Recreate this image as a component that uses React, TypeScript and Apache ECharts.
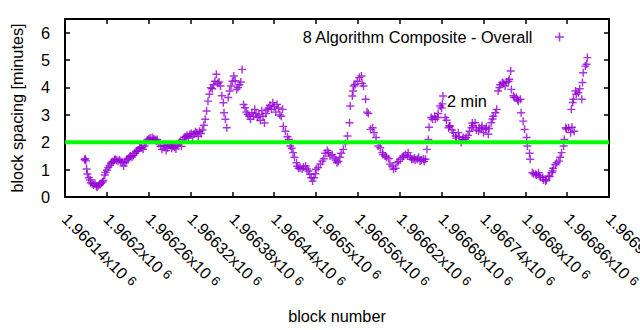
import React, { useEffect, useRef } from "react";
import * as echarts from "echarts";

const seriesName = "8 Algorithm Composite - Overall";
const xAxisName = "block number";
const yAxisName = "block spacing [minutes]";
const lineLabel = "2 min";
const targetSpacing = 2;
const xMin = 1966140;
const xMax = 1966920;
const xStep = 60;
const yMin = 0;
const yMax = 6.5;
const yStep = 1;

const blocks = [
  1966168, 1966169, 1966170, 1966171, 1966172, 1966174, 1966176, 1966177, 1966179, 1966181,
  1966183, 1966185, 1966186, 1966188, 1966190, 1966192, 1966194, 1966195, 1966197, 1966198,
  1966200, 1966202, 1966204, 1966206, 1966207, 1966209, 1966211, 1966212, 1966214, 1966216,
  1966218, 1966220, 1966222, 1966224, 1966226, 1966228, 1966229, 1966231, 1966233, 1966234,
  1966236, 1966238, 1966240, 1966242, 1966243, 1966245, 1966247, 1966248, 1966250, 1966252,
  1966254, 1966256, 1966258, 1966260, 1966262, 1966265, 1966267, 1966269, 1966271, 1966272,
  1966274, 1966277, 1966279, 1966281, 1966283, 1966285, 1966287, 1966289, 1966291, 1966293,
  1966295, 1966297, 1966299, 1966301, 1966303, 1966305, 1966307, 1966309, 1966311, 1966313,
  1966315, 1966317, 1966319, 1966321, 1966323, 1966325, 1966327, 1966329, 1966331, 1966333,
  1966335, 1966337, 1966339, 1966341, 1966343, 1966345, 1966347, 1966349, 1966351, 1966353,
  1966355, 1966357, 1966359, 1966361, 1966363, 1966365, 1966367, 1966368, 1966370, 1966372,
  1966374, 1966376, 1966378, 1966380, 1966382, 1966384, 1966386, 1966388, 1966390, 1966392,
  1966394, 1966396, 1966398, 1966400, 1966402, 1966404, 1966406, 1966408, 1966410, 1966412,
  1966414, 1966416, 1966418, 1966420, 1966422, 1966424, 1966426, 1966428, 1966430, 1966432,
  1966434, 1966436, 1966438, 1966440, 1966442, 1966444, 1966446, 1966448, 1966450, 1966452,
  1966453, 1966456, 1966459, 1966461, 1966463, 1966465, 1966467, 1966469, 1966472, 1966473,
  1966475, 1966477, 1966480, 1966482, 1966485, 1966487, 1966489, 1966491, 1966493, 1966495,
  1966497, 1966499, 1966500, 1966503, 1966506, 1966509, 1966511, 1966513, 1966516, 1966518,
  1966520, 1966523, 1966526, 1966528, 1966530, 1966532, 1966534, 1966536, 1966539, 1966542,
  1966545, 1966548, 1966549, 1966552, 1966553, 1966554, 1966556, 1966559, 1966562, 1966565,
  1966566, 1966568, 1966571, 1966573, 1966575, 1966578, 1966581, 1966583, 1966586, 1966589,
  1966592, 1966595, 1966596, 1966599, 1966601, 1966604, 1966606, 1966609, 1966611, 1966614,
  1966616, 1966618, 1966621, 1966624, 1966625, 1966628, 1966631, 1966632, 1966635, 1966637,
  1966639, 1966641, 1966642, 1966645, 1966647, 1966649, 1966651, 1966654, 1966655, 1966657,
  1966659, 1966661, 1966662, 1966665, 1966667, 1966670, 1966671, 1966674, 1966675, 1966678,
  1966680, 1966681, 1966682, 1966685, 1966687, 1966690, 1966691, 1966692, 1966695, 1966697,
  1966700, 1966701, 1966704, 1966705, 1966708, 1966710, 1966711, 1966714, 1966715, 1966718,
  1966720, 1966723, 1966724, 1966725, 1966728, 1966730, 1966733, 1966734, 1966737, 1966738,
  1966740, 1966743, 1966744, 1966747, 1966748, 1966751, 1966753, 1966754, 1966757, 1966759,
  1966761, 1966763, 1966764, 1966767, 1966769, 1966771, 1966773, 1966776, 1966777, 1966779,
  1966780, 1966783, 1966784, 1966787, 1966789, 1966790, 1966793, 1966794, 1966797, 1966799,
  1966802, 1966803, 1966806, 1966807, 1966810, 1966812, 1966815, 1966816, 1966819, 1966820,
  1966822, 1966825, 1966826, 1966829, 1966830, 1966833, 1966835, 1966838, 1966839, 1966840,
  1966843, 1966845, 1966848, 1966850, 1966852, 1966855, 1966856, 1966858, 1966859, 1966862,
  1966865, 1966866, 1966867, 1966868, 1966869, 1966870, 1966872, 1966873, 1966876, 1966878,
  1966881, 1966882, 1966883, 1966886, 1966888, 1966889,
];

const spacing = [
  1.36, 1.40, 1.32, 1.02, 0.84, 0.70, 0.62, 0.52, 0.48, 0.44,
  0.50, 0.40, 0.36, 0.42, 0.46, 0.50, 0.55, 0.60, 0.80, 0.90,
  0.98, 1.08, 1.15, 1.22, 1.27, 1.30, 1.35, 1.38, 1.34, 1.31,
  1.36, 1.30, 1.27, 1.13, 1.25, 1.32, 1.38, 1.42, 1.48, 1.50,
  1.46, 1.52, 1.60, 1.66, 1.68, 1.72, 1.78, 1.81, 1.80, 1.74,
  1.86, 1.95, 2.08, 2.12, 2.15, 2.17, 2.12, 2.10, 2.05, 2.10,
  1.95, 1.85, 1.74, 1.88, 1.85, 1.70, 1.80, 1.92, 1.88, 1.78,
  1.85, 1.82, 1.75, 1.90, 1.95, 2.02, 1.85, 2.10, 2.18, 2.20,
  2.25, 2.15, 2.28, 2.32, 2.20, 2.30, 2.38, 2.35, 2.22, 2.40,
  2.32, 2.45, 2.62, 2.84, 3.14, 3.50, 3.75, 3.99, 3.95, 4.10,
  4.23, 4.48, 4.15, 4.20, 4.05, 3.70, 3.44, 3.08, 2.84, 2.53,
  3.63, 3.87, 4.05, 4.23, 4.42, 4.25, 3.93, 4.00, 4.10, 4.20,
  4.66, 3.38, 3.26, 3.10, 3.02, 2.95, 2.84, 3.08, 2.95, 3.20,
  3.05, 2.90, 3.00, 2.80, 3.15, 2.95, 2.70, 3.05, 3.20, 3.25,
  3.35, 3.20, 3.44, 3.30, 3.10, 3.38, 3.25, 3.00, 2.95, 3.20,
  2.58, 2.40, 2.20, 2.10, 1.86, 1.78, 1.62, 1.45, 1.25, 1.12,
  1.05, 1.07, 1.02, 1.10, 1.13, 1.02, 0.95, 0.83, 0.70, 0.58,
  0.70, 0.85, 1.01, 1.08, 1.20, 1.31, 1.40, 1.60, 1.70, 1.62,
  1.50, 1.55, 1.42, 1.35, 1.25, 1.30, 1.45, 1.60, 1.74, 1.95,
  2.23, 2.71, 3.32, 3.69, 3.87, 4.05, 4.11, 4.23, 4.36, 4.42,
  4.15, 4.05, 3.57, 3.10, 3.05, 2.47, 2.53, 2.35, 2.17, 1.86,
  1.80, 1.62, 1.55, 1.50, 1.45, 1.40, 1.20, 1.13, 1.01, 1.05,
  1.25, 1.30, 1.38, 1.44, 1.50, 1.55, 1.50, 1.62, 1.45, 1.38,
  1.38, 1.42, 1.35, 1.38, 1.45, 1.31, 1.35, 1.38, 1.30, 1.38,
  1.74, 2.10, 2.55, 2.90, 2.84, 2.95, 2.84, 2.90, 3.05, 3.32,
  3.25, 3.40, 3.69, 2.90, 2.80, 2.53, 2.60, 2.59, 2.45, 2.35,
  2.23, 2.15, 2.35, 2.20, 1.99, 2.10, 2.17, 2.10, 2.17, 2.25,
  2.40, 2.53, 2.70, 2.60, 2.71, 2.45, 2.41, 2.53, 2.50, 2.60,
  2.35, 2.47, 2.55, 2.29, 2.50, 2.71, 2.85, 2.95, 3.08, 3.20,
  3.87, 4.00, 4.10, 4.18, 4.15, 4.05, 4.20, 4.23, 4.30, 4.60,
  3.93, 3.70, 3.63, 3.63, 3.55, 3.50, 3.57, 3.08, 2.77, 2.47,
  2.17, 1.86, 1.60, 1.38, 0.89, 0.85, 0.83, 0.80, 0.89, 0.78,
  0.72, 0.71, 0.62, 0.58, 0.62, 0.77, 0.75, 0.89, 0.95, 1.05,
  1.19, 1.25, 1.31, 1.45, 1.62, 1.86, 2.10, 2.53, 2.48, 2.53,
  2.35, 3.20, 2.55, 3.45, 3.57, 2.40, 3.87, 3.75, 3.81, 3.95,
  3.57, 4.18, 4.54, 4.78, 4.85, 5.09,
];

const PLUS = "path://M4.1,0H5.9V4.1H10V5.9H5.9V10H4.1V5.9H0V4.1H4.1Z";
const FONT = "Liberation Sans";
const FS = 16.3;
const FRAME = "#000000";

export default function App() {
  const ref = useRef<HTMLDivElement>(null);
  useEffect(() => {
    document.body.style.margin = "0";
    if (!ref.current) return;
    const chart = echarts.init(ref.current, undefined, { renderer: "svg" });
    const points = blocks.map((b, i) => [b, spacing[i]]);
    const fmt = (v: number) => {
      const m = parseFloat((v / 1e6).toPrecision(6)).toString();
      return `{m|${m}x10 }{e|6}`;
    };
    const axisLine = () => ({ show: true, onZero: false, lineStyle: { color: FRAME, width: 2 } });
    const axisTick = () => ({ show: true, inside: true, length: 5, lineStyle: { color: FRAME, width: 1.5 } });
    chart.setOption({
      animation: false,
      textStyle: { fontFamily: FONT, fontSize: FS, color: "#000" },
      grid: {
        left: 65,
        right: 31,
        top: 19,
        bottom: 133,
        outerBoundsMode: "none",
        show: true,
        borderColor: FRAME,
        borderWidth: 2,
      },
      legend: {
        right: 71,
        top: 24,
        itemWidth: 44,
        itemHeight: 9,
        itemGap: 0,
        align: "right",
        symbolKeepAspect: true,
        data: [{ name: seriesName, icon: PLUS }],
        textStyle: { fontFamily: FONT, fontSize: FS, color: "#000" },
      },
      xAxis: [
        {
          type: "value",
          min: xMin,
          max: xMax,
          interval: xStep,
          position: "bottom",
          name: xAxisName,
          nameLocation: "middle",
          nameGap: 111,
          nameTextStyle: { fontFamily: FONT, fontSize: FS, color: "#000" },
          axisLine: axisLine(),
          axisTick: axisTick(),
          splitLine: { show: false },
          axisLabel: {
            rotate: -45,
            margin: 19,
            color: "#000",
            formatter: fmt,
            rich: {
              m: { fontFamily: FONT, fontSize: FS, color: "#000" },
              e: { fontFamily: FONT, fontSize: 13, color: "#000", verticalAlign: "top" },
            },
          },
        },
        {
          type: "value",
          min: xMin,
          max: xMax,
          interval: xStep,
          position: "top",
          axisLine: axisLine(),
          axisTick: axisTick(),
          splitLine: { show: false },
          axisLabel: { show: false },
        },
      ],
      yAxis: [
        {
          type: "value",
          min: yMin,
          max: yMax,
          interval: yStep,
          position: "left",
          name: yAxisName,
          nameLocation: "middle",
          nameRotate: 90,
          nameGap: 40,
          nameTextStyle: { fontFamily: FONT, fontSize: FS, color: "#000" },
          axisLine: axisLine(),
          axisTick: axisTick(),
          splitLine: { show: false },
          axisLabel: {
            margin: 15,
            color: "#000",
            fontFamily: FONT,
            fontSize: FS,
            showMaxLabel: false,
          },
        },
        {
          type: "value",
          min: yMin,
          max: yMax,
          interval: yStep,
          position: "right",
          axisLine: axisLine(),
          axisTick: axisTick(),
          splitLine: { show: false },
          axisLabel: { show: false },
        },
      ],
      series: [
        {
          type: "scatter",
          name: seriesName,
          data: points,
          symbol: PLUS,
          symbolSize: 8,
          symbolKeepAspect: true,
          itemStyle: { color: "#9400d3" },
          xAxisIndex: 0,
          yAxisIndex: 0,
          z: 2,
        },
        {
          type: "line",
          name: lineLabel,
          data: [
            [xMin, targetSpacing],
            [xMax, targetSpacing],
          ],
          symbol: "none",
          lineStyle: { color: "#00ff00", width: 4 },
          xAxisIndex: 0,
          yAxisIndex: 0,
          z: 3,
        },
      ],
      graphic: [
        {
          type: "text",
          left: 447,
          top: 93,
          style: { text: lineLabel, fontFamily: FONT, fontSize: FS, fill: "#000" },
        },
      ],
    });
    return () => chart.dispose();
  }, []);
  return <div ref={ref} style={{ width: 640, height: 330 }} />;
}
